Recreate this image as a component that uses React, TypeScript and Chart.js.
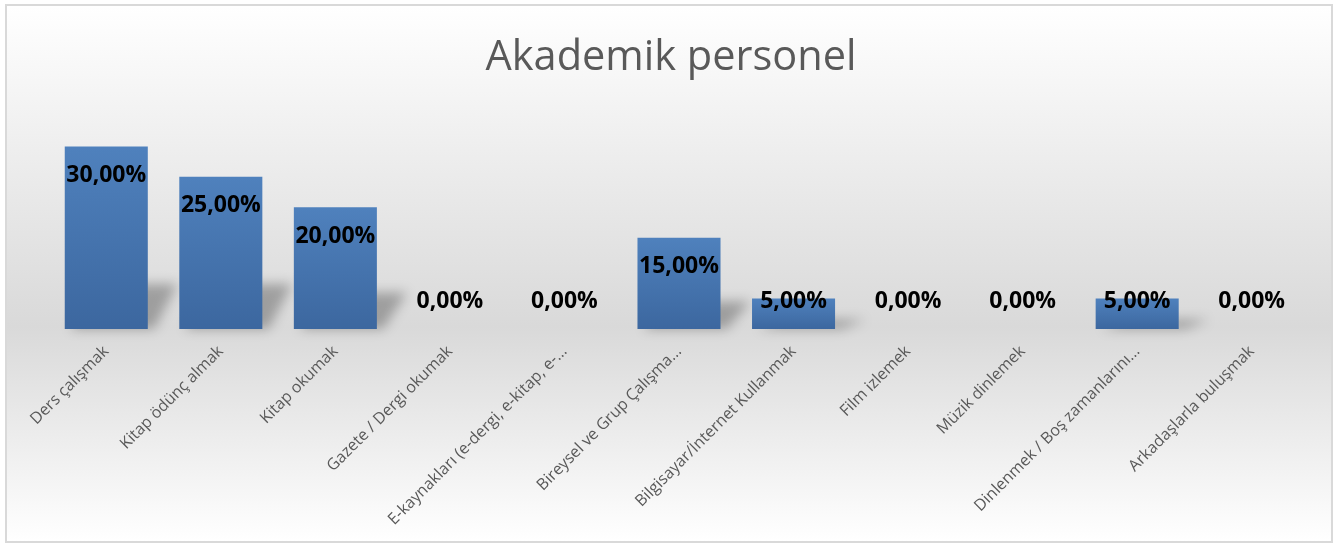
import React, { useEffect, useRef } from "react";
import { Chart, registerables } from "chart.js";

Chart.register(...registerables);

const categories = [
  "Ders çalışmak",
  "Kitap ödünç almak",
  "Kitap okumak",
  "Gazete / Dergi okumak",
  "E-kaynakları (e-dergi, e-kitap, e-...",
  "Bireysel ve Grup Çalışma...",
  "Bilgisayar/İnternet Kullanmak",
  "Film izlemek",
  "Müzik dinlemek",
  "Dinlenmek / Boş zamanlarını...",
  "Arkadaşlarla buluşmak",
];
const values = [30, 25, 20, 0, 0, 15, 5, 0, 0, 5, 0];
const chartTitle = "Akademik personel";
const yMax = 35;

const fmt = (v: number) => v.toFixed(2).replace(".", ",") + "%";

const titlePlugin = {
  id: "customTitle",
  afterDraw(chart: any) {
    const ctx = chart.ctx;
    ctx.save();
    ctx.font = "41.5px 'Open Sans'";
    ctx.fillStyle = "#595959";
    ctx.textAlign = "center";
    ctx.textBaseline = "alphabetic";
    ctx.fillText(chartTitle, 664, 64);
    ctx.restore();
  },
};

const shadowPlugin = {
  id: "barShadow",
  beforeDatasetsDraw(chart: any) {
    const ctx = chart.ctx;
    const meta = chart.getDatasetMeta(0);
    ctx.save();
    ctx.filter = "blur(6px)";
    ctx.fillStyle = "rgba(0,0,0,0.28)";
    meta.data.forEach((el: any) => {
      const h = el.base - el.y;
      if (h <= 0.5) return;
      const sh = Math.min(h * 0.3, 45);
      const l = el.x - el.width / 2;
      const r = el.x + el.width / 2;
      ctx.beginPath();
      ctx.moveTo(l + 6, el.base);
      ctx.lineTo(r + 6, el.base);
      ctx.lineTo(r + 30, el.base - sh);
      ctx.lineTo(l + 30, el.base - sh);
      ctx.closePath();
      ctx.fill();
    });
    ctx.restore();
  },
};

const labelPlugin = {
  id: "barLabels",
  afterDatasetsDraw(chart: any) {
    const ctx = chart.ctx;
    const meta = chart.getDatasetMeta(0);
    ctx.save();
    ctx.font = "bold 23px 'Open Sans'";
    ctx.fillStyle = "#000000";
    ctx.textAlign = "center";
    ctx.textBaseline = "middle";
    meta.data.forEach((el: any, i: number) => {
      const y = Math.min(el.y + 29, el.base - 28);
      ctx.fillText(fmt(values[i]), el.x, y);
    });
    ctx.restore();
  },
};

export default function App() {
  const ref = useRef<HTMLCanvasElement | null>(null);

  useEffect(() => {
    document.body.style.margin = "0";
    const canvas = ref.current;
    if (!canvas) return;
    const chart = new Chart(canvas, {
      type: "bar",
      data: {
        labels: categories,
        datasets: [
          {
            data: values,
            backgroundColor: (c: any) => {
              const ch = c.chart;
              if (!ch.chartArea || c.parsed === undefined) return "#4a7ab5";
              const ys = ch.scales.y;
              const top = ys.getPixelForValue(c.parsed.y);
              const base = ys.getPixelForValue(0);
              if (base - top < 1) return "#4a7ab5";
              const g = ch.ctx.createLinearGradient(0, top, 0, base);
              g.addColorStop(0, "#4f81bd");
              g.addColorStop(1, "#3c679f");
              return g;
            },
            borderWidth: 0,
            categoryPercentage: 1,
            barPercentage: 0.725,
          },
        ],
      },
      options: {
        animation: false,
        responsive: true,
        maintainAspectRatio: false,
        layout: { padding: { top: 110, left: 42, right: 22, bottom: 0 } },
        plugins: {
          legend: { display: false },
          title: { display: false },
          tooltip: { enabled: false },
        },
        scales: {
          x: {
            grid: { display: false, drawTicks: false },
            border: { display: false },
            ticks: {
              minRotation: 45,
              maxRotation: 45,
              autoSkip: false,
              padding: 13,
              color: "#595959",
              font: { family: "'Open Sans'", size: 16 },
            },
            afterFit(scale: any) {
              scale.height = 212;
              scale.paddingLeft = 0;
              scale.paddingRight = 0;
            },
          },
          y: {
            display: false,
            min: 0,
            max: yMax,
          },
        },
      },
      plugins: [shadowPlugin, labelPlugin, titlePlugin],
    });
    return () => chart.destroy();
  }, []);

  return (
    <div
      style={{
        position: "absolute",
        left: 5,
        top: 4,
        width: 1328,
        height: 539,
        boxSizing: "border-box",
        border: "2px solid #d9d9d9",
        background:
          "linear-gradient(to bottom, #ffffff 0%, #d9d9d9 60%, #ffffff 100%)",
      }}
    >
      <div style={{ position: "relative", width: 1324, height: 535 }}>
        <canvas ref={ref} />
      </div>
    </div>
  );
}
